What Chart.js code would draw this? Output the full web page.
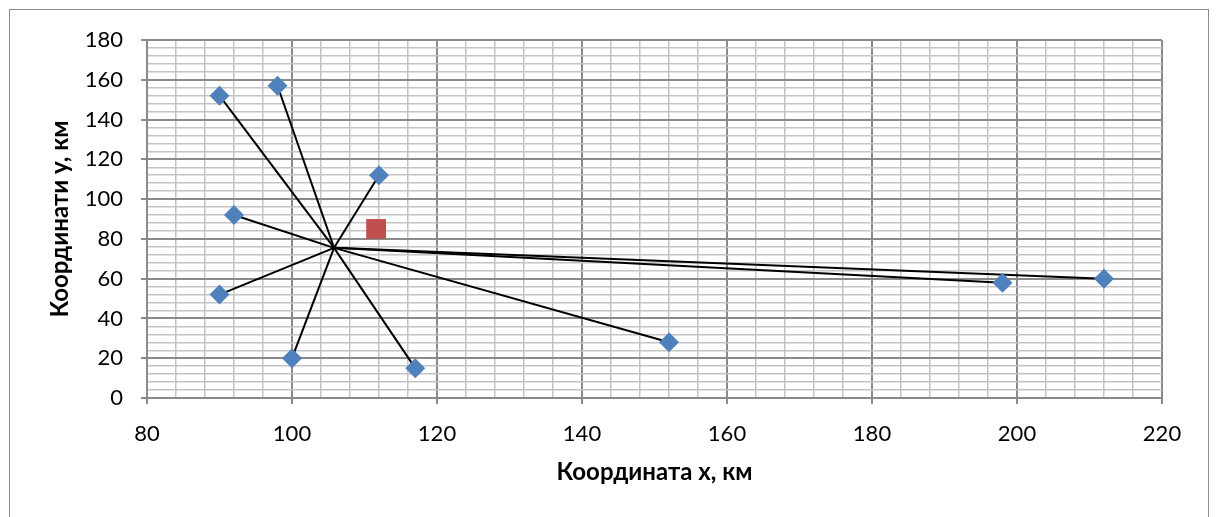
<!DOCTYPE html>
<html lang="uk">
<head>
  <meta charset="UTF-8">
  <title>Координати пунктів</title>
  <script src="https://cdn.jsdelivr.net/npm/chart.js"></script>
  <style>
    html, body { margin: 0; padding: 0; background: #fff; overflow: hidden; }
    #wrap { position: relative; width: 1216px; height: 517px; }
    #frame {
      position: absolute; left: 9px; top: 9px; width: 1200px; height: 520px;
      border: 1px solid #8c8c8c; box-sizing: border-box;
    }
    canvas { position: absolute; left: 0; top: 0; }
  </style>
</head>
<body>
  <div id="wrap">
    <div id="frame"></div>
    <canvas id="grafik" width="1216" height="517"></canvas>
  </div>

  <script>
    // пункти споживання
    const pointsX = [90, 98, 112, 92, 90, 100, 117, 152, 198, 212];
    const pointsY = [152, 157, 112, 92, 52, 20, 15, 28, 58, 60];

    // точка сходження ліній
    const hubX = 105.8;
    const hubY = 75.5;

    // центр ваги
    const centerX = [111.6];
    const centerY = [85];

    const xMin = 80, xMax = 220, xMajor = 20;
    const yMin = 0, yMax = 180, yMajor = 20;
    const minorStep = 4;

    const fontName = 'Lato, "Open Sans", sans-serif';

    const datasets = [];

    // лінії від центру до кожного пункту
    for (let i = 0; i < pointsX.length; i++) {
      datasets.push({
        data: [{ x: hubX, y: hubY }, { x: pointsX[i], y: pointsY[i] }],
        showLine: true,
        borderColor: '#000',
        borderWidth: 2,
        pointRadius: 0,
        pointHoverRadius: 0,
        order: 3
      });
    }

    datasets.push({
      label: 'Пункти',
      data: pointsX.map((x, i) => ({ x: x, y: pointsY[i] })),
      pointStyle: 'rectRot',
      pointRadius: 10,
      backgroundColor: '#4f81bd',
      borderColor: '#4f81bd',
      borderWidth: 0,
      order: 1
    });

    datasets.push({
      label: 'Центр',
      data: centerX.map((x, i) => ({ x: x, y: centerY[i] })),
      pointStyle: 'rect',
      pointRadius: 14,
      backgroundColor: '#c0504d',
      borderColor: '#c0504d',
      borderWidth: 0,
      order: 2
    });

    function isMajor(v, step) {
      return Math.abs(v / step - Math.round(v / step)) < 1e-6;
    }

    function gridColor(step) {
      return (c) => isMajor(c.tick.value, step) ? '#8a8a8a' : '#c4c4c4';
    }
    function gridWidth(step) {
      return (c) => isMajor(c.tick.value, step) ? 2 : 1.5;
    }
    function tickMarkColor(step) {
      return (c) => isMajor(c.tick.value, step) ? '#8a8a8a' : 'rgba(0,0,0,0)';
    }

    new Chart(document.getElementById('grafik'), {
      type: 'scatter',
      data: { datasets: datasets },
      options: {
        responsive: false,
        animation: false,
        layout: { padding: { top: 40, right: 54, bottom: 20, left: 20 } },
        plugins: {
          legend: { display: false },
          tooltip: { enabled: false }
        },
        scales: {
          x: {
            type: 'linear',
            min: xMin,
            max: xMax,
            afterFit: (s) => { s.height = 99; },
            border: { color: '#8a8a8a', width: 2 },
            grid: {
              color: gridColor(xMajor),
              lineWidth: gridWidth(xMajor),
              tickColor: tickMarkColor(xMajor),
              tickLength: 6,
              tickWidth: 2
            },
            ticks: {
              stepSize: minorStep,
              autoSkip: false,
              maxRotation: 0,
              padding: 17,
              color: '#000',
              font: { family: fontName, size: 22 },
              callback: (v) => isMajor(v, xMajor) ? String(v) : ''
            },
            title: {
              display: true,
              text: 'Координата x, км',
              color: '#000',
              font: { family: fontName, size: 24, weight: 'bold' },
              padding: { top: 0, bottom: 10 }
            }
          },
          y: {
            type: 'linear',
            min: yMin,
            max: yMax,
            afterFit: (s) => { s.width = 127; },
            border: { color: '#8a8a8a', width: 2 },
            grid: {
              color: gridColor(yMajor),
              lineWidth: gridWidth(yMajor),
              tickColor: tickMarkColor(yMajor),
              tickLength: 6,
              tickWidth: 2
            },
            ticks: {
              stepSize: minorStep,
              autoSkip: false,
              padding: 18,
              color: '#000',
              font: { family: fontName, size: 22 },
              callback: (v) => isMajor(v, yMajor) ? String(v) : ''
            },
            title: {
              display: true,
              text: 'Координати y, км',
              color: '#000',
              font: { family: fontName, size: 24, weight: 'bold' },
              padding: { top: 26, bottom: 0 }
            }
          }
        }
      }
    });
  </script>
</body>
</html>
